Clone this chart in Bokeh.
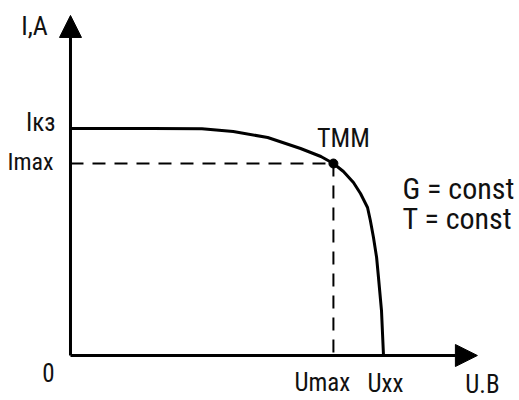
from bokeh.plotting import figure
from bokeh.models import Arrow, NormalHead, Range1d
from bokeh.core.properties import value
from bokeh.embed import file_html
from bokeh.resources import INLINE

# I-V characteristic of a photovoltaic cell (relative units)
U_curve = [0.0, 0.26, 0.42, 0.52, 0.63, 0.735, 0.80, 0.84, 0.872, 0.904,
           0.9265, 0.949, 0.958, 0.968, 0.978, 0.984, 0.9936, 1.0]
I_curve = [1.0, 1.0, 0.9987, 0.9868, 0.9604, 0.9119, 0.8767, 0.8458, 0.8106,
           0.7621, 0.7137, 0.6520, 0.5947, 0.5198, 0.4317, 0.3436, 0.1982, 0.0]

I_sc = 1.0      # short-circuit current, Iкз
I_max = 0.8458  # current at the maximum power point
U_max = 0.84    # voltage at the maximum power point
U_oc = 1.0      # open-circuit voltage, Uxx

U_axis_end = 1.30
I_axis_end = 1.498

FONT = "Roboto Condensed"

p = figure(width=519, height=400, output_backend="svg", toolbar_location=None,
           x_axis_type=None, y_axis_type=None, min_border=0,
           x_range=Range1d(-0.2236, 1.4345), y_range=Range1d(-0.1982, 1.5639))
p.outline_line_color = None
p.background_fill_color = "white"
p.border_fill_color = "white"

# axes with arrow heads
p.add_layout(Arrow(x_start=0, y_start=0, x_end=0, y_end=I_axis_end,
                   line_width=3, line_color="black",
                   end=NormalHead(size=22, fill_color="black", line_color="black", line_width=1)))
p.add_layout(Arrow(x_start=0, y_start=0, x_end=U_axis_end, y_end=0,
                   line_width=3, line_color="black",
                   end=NormalHead(size=22, fill_color="black", line_color="black", line_width=1)))

# dashed guides to the maximum power point
p.line([0, U_max], [I_max, I_max], line_color="black", line_width=2, line_dash="13 9")
p.line([U_max, U_max], [I_max, 0], line_color="black", line_width=2, line_dash="13 9")

# the characteristic
p.line(U_curve, I_curve, line_color="black", line_width=3)
p.scatter([U_max], [I_max], size=9, color="black")

def label(x, y, txt, size, align="center", dx=0, dy=0):
    p.text([x], [y], text=[txt], text_font=value(FONT), text_font_size=f"{size}px",
           text_align=align, text_baseline="middle", x_offset=dx, y_offset=dy,
           text_color="#111111")

label(0, I_axis_end, "I,A", 26, dx=-36, dy=11)
label(0, I_sc, "Iкз", 25, align="right", dx=-15, dy=-6)
label(0, I_max, "Imax", 24, align="right", dx=-17, dy=-2)
label(0, 0, "0", 25, dx=-22, dy=17)
label(U_max, 0, "Umax", 25, dx=-11, dy=27)
label(U_oc, 0, "Uxx", 25, dx=2, dy=28)
label(U_axis_end, 0, "U.B", 25, dx=5, dy=29)
label(U_max, I_max, "TMM", 26, dx=10, dy=-26)
label(U_oc, I_max, "G = const", 30, align="left", dx=19, dy=25)
label(U_oc, I_max, "T = const", 30, align="left", dx=19, dy=55)

open("out.html", "w").write(file_html(p, INLINE))
